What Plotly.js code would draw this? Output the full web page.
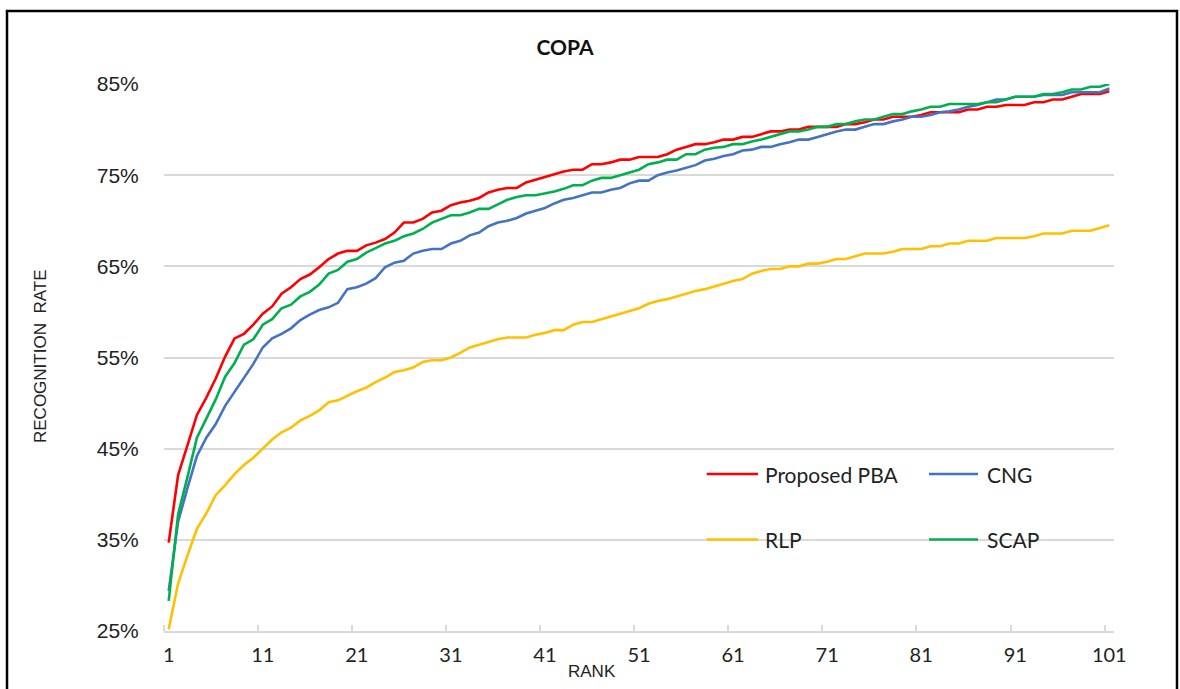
<!DOCTYPE html>
<html>
<head>
<meta charset="utf-8">
<script src="https://cdn.plot.ly/plotly-3.0.1.min.js"></script>
<style>html,body{margin:0;padding:0;background:#fff;}#chart{width:1180px;height:689px;}</style>
</head>
<body>
<div id="chart"></div>
<script>
// ---- data (recognition rate in %, rank 1..101) ----
const seriesNames = ["Proposed PBA", "CNG", "RLP", "SCAP"];
const seriesColors = ["#FF0000", "#4472C4", "#FFC000", "#00B050"];
const xTickLabels = ["1","11","21","31","41","51","61","71","81","91","101"];
const yTickLabels = ["25%","35%","45%","55%","65%","75%","85%"];

const proposedPBA = [34.7,42.1,45.4,48.7,50.6,52.7,55.1,57.1,57.6,58.6,
59.8,60.6,62.0,62.7,63.6,64.1,64.9,65.8,66.4,66.7,
66.7,67.3,67.6,68.0,68.7,69.8,69.8,70.2,70.9,71.1,
71.7,72.0,72.2,72.5,73.1,73.4,73.6,73.6,74.2,74.5,
74.8,75.1,75.4,75.6,75.6,76.2,76.2,76.4,76.7,76.7,
77.0,77.0,77.0,77.3,77.8,78.1,78.4,78.4,78.6,78.9,
78.9,79.2,79.2,79.5,79.8,79.8,80.0,80.0,80.3,80.3,
80.3,80.3,80.6,80.6,80.8,81.1,81.1,81.4,81.4,81.4,
81.6,81.9,81.9,81.9,81.9,82.2,82.2,82.5,82.5,82.7,
82.7,82.7,83.0,83.0,83.3,83.3,83.6,83.9,83.9,83.9,
84.2];

const cng = [29.4,37.0,40.7,44.2,46.2,47.7,49.7,51.2,52.8,54.3,
56.1,57.1,57.6,58.2,59.1,59.7,60.2,60.5,61.0,62.5,
62.7,63.1,63.7,64.9,65.4,65.6,66.4,66.7,66.9,66.9,
67.5,67.8,68.4,68.7,69.4,69.8,70.0,70.3,70.8,71.1,
71.4,71.9,72.3,72.5,72.8,73.1,73.1,73.4,73.6,74.1,
74.4,74.4,75.0,75.3,75.5,75.8,76.1,76.6,76.8,77.1,
77.3,77.7,77.8,78.1,78.1,78.4,78.6,78.9,78.9,79.2,
79.5,79.8,80.0,80.0,80.3,80.6,80.6,80.9,81.1,81.4,
81.4,81.6,81.9,82.0,82.2,82.5,82.7,83.0,83.3,83.3,
83.6,83.6,83.6,83.8,83.8,83.8,84.1,84.1,84.1,84.1,
84.5];

const rlp = [25.2,30.2,33.3,36.2,37.9,39.9,41.0,42.2,43.2,44.0,
45.0,46.0,46.8,47.3,48.1,48.6,49.2,50.1,50.3,50.8,
51.3,51.7,52.3,52.8,53.4,53.6,53.9,54.5,54.7,54.7,
55.0,55.5,56.1,56.4,56.7,57.0,57.2,57.2,57.2,57.5,
57.7,58.0,58.0,58.6,58.9,58.9,59.2,59.5,59.8,60.1,
60.4,60.9,61.2,61.4,61.7,62.0,62.3,62.5,62.8,63.1,
63.4,63.6,64.2,64.5,64.7,64.7,65.0,65.0,65.3,65.3,
65.5,65.8,65.8,66.1,66.4,66.4,66.4,66.6,66.9,66.9,
66.9,67.2,67.2,67.5,67.5,67.8,67.8,67.8,68.1,68.1,
68.1,68.1,68.3,68.6,68.6,68.6,68.9,68.9,68.9,69.2,
69.5];

const scap = [28.3,37.8,41.9,46.2,48.3,50.4,52.9,54.4,56.4,57.0,
58.6,59.2,60.4,60.8,61.7,62.2,63.0,64.2,64.6,65.5,
65.8,66.5,67.0,67.5,67.8,68.3,68.6,69.1,69.8,70.2,
70.6,70.6,70.9,71.3,71.3,71.8,72.3,72.6,72.8,72.8,
73.0,73.2,73.5,73.9,73.9,74.4,74.7,74.7,75.0,75.3,
75.6,76.2,76.4,76.7,76.7,77.3,77.3,77.8,78.0,78.1,
78.4,78.4,78.7,78.9,79.2,79.5,79.8,79.8,80.0,80.3,
80.3,80.6,80.6,80.9,81.1,81.1,81.4,81.7,81.7,82.0,
82.2,82.5,82.5,82.8,82.8,82.8,82.8,83.0,83.0,83.3,
83.6,83.6,83.6,83.9,83.9,84.1,84.4,84.4,84.7,84.7,
85.0];

const seriesValues = [proposedPBA, cng, rlp, scap];
const ranks = proposedPBA.map((_, i) => i + 1);

// ---- layout constants ----
const W = 1180, H = 689;
const mL = 164, mR = 66, mT = 84, mB = 58;
const plotW = W - mL - mR, plotH = H - mT - mB;
const px = v => (v - mL) / plotW;           // pixel x -> paper x
const py = v => (H - mB - v) / plotH;        // pixel y -> paper y

const calibri = "Lato, 'Open Sans', sans-serif";
const arial = "'Liberation Sans', Arial, sans-serif";

const traces = seriesNames.map((name, i) => ({
  type: "scatter",
  mode: "lines",
  name: name,
  x: ranks,
  y: seriesValues[i],
  line: { color: seriesColors[i], width: 2.6 },
  hoverinfo: "x+y+name"
}));

// manual legend (two columns)
const legendPos = [
  { lx0: 706.7, lx1: 758, tx: 763, y: 474 },
  { lx0: 929, lx1: 978, tx: 985, y: 474 },
  { lx0: 706.7, lx1: 758, tx: 763, y: 539.5 },
  { lx0: 929, lx1: 978, tx: 985, y: 539.5 }
];

const shapes = [
  { type: "rect", xref: "paper", yref: "paper",
    x0: px(7), x1: px(1177), y0: py(11), y1: py(700),
    line: { color: "#000", width: 2.5 }, fillcolor: "rgba(0,0,0,0)", layer: "above" }
];
const annotations = [
  { text: "RECOGNITION  RATE", xref: "paper", yref: "paper", x: px(40), y: py(357),
    textangle: -90, showarrow: false, font: { family: arial, size: 17, color: "#222" },
    xanchor: "center", yanchor: "middle" },
  { text: "RANK", xref: "paper", yref: "paper", x: px(592), y: py(671),
    showarrow: false, font: { family: arial, size: 17, color: "#222" },
    xanchor: "center", yanchor: "middle" }
];
seriesNames.forEach((name, i) => {
  const p = legendPos[i];
  shapes.push({ type: "line", xref: "paper", yref: "paper",
    x0: px(p.lx0), x1: px(p.lx1), y0: py(p.y), y1: py(p.y),
    line: { color: seriesColors[i], width: 2.6 } });
  annotations.push({ text: name, xref: "paper", yref: "paper", x: px(p.tx), y: py(p.y),
    xanchor: "left", yanchor: "middle", showarrow: false,
    font: { family: calibri, size: 21, color: "#222" } });
});

const layout = {
  width: W, height: H,
  margin: { l: mL, r: mR, t: mT, b: mB, pad: 0 },
  paper_bgcolor: "#fff", plot_bgcolor: "#fff",
  showlegend: false,
  title: { text: "<b>COPA</b>", x: 565 / W, xanchor: "center", y: 1 - 48 / H, yanchor: "middle",
    font: { family: calibri, size: 21, color: "#111" } },
  xaxis: {
    range: [0.5, 101.5],
    tickmode: "array",
    tickvals: xTickLabels.map(Number),
    ticktext: xTickLabels,
    ticks: "outside", ticklen: 5, tickcolor: "rgba(0,0,0,0)",
    minor: { tickmode: "linear", tick0: 0.5, dtick: 10, ticks: "inside", ticklen: 6,
      tickcolor: "#d9d9d9", tickwidth: 2, showgrid: false },
    showgrid: false, zeroline: false,
    showline: true, linecolor: "#d9d9d9", linewidth: 2,
    tickfont: { family: calibri, size: 20, color: "#222" },
    fixedrange: true
  },
  yaxis: {
    range: [25, 85],
    tickmode: "array",
    tickvals: yTickLabels.map(s => parseFloat(s)),
    ticktext: yTickLabels,
    ticks: "outside", ticklen: 20, tickcolor: "rgba(0,0,0,0)",
    showgrid: true, gridcolor: "#d9d9d9", gridwidth: 2,
    zeroline: false, showline: false,
    tickfont: { family: arial, size: 21, color: "#222" },
    fixedrange: true
  },
  shapes: shapes,
  annotations: annotations
};

Plotly.newPlot("chart", traces, layout, { displayModeBar: false, staticPlot: true });
</script>
</body>
</html>
